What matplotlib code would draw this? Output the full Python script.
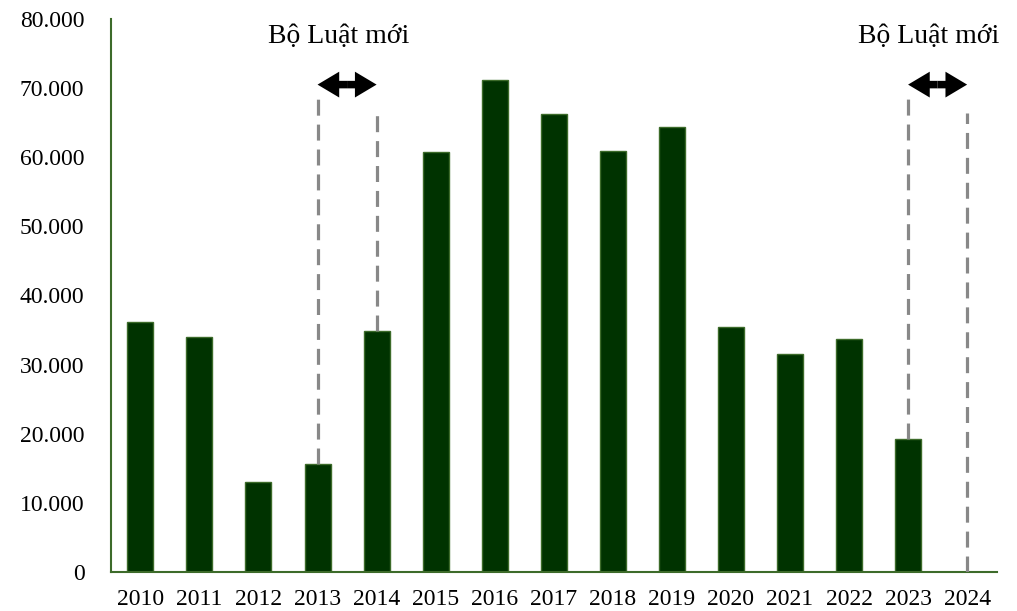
import matplotlib.pyplot as plt
import numpy as np

years = ['2010', '2011', '2012', '2013', '2014', '2015', '2016', '2017',
         '2018', '2019', '2020', '2021', '2022', '2023', '2024']
values = [36100, 34000, 13000, 15600, 34900, 60800, 71200, 66300,
          60900, 64400, 35500, 31500, 33700, 19200, 0]

# marker lines for the new laws: (year index, top of dashed line)
law_pairs = [(3, 4), (13, 14)]
line_tops = {3: 69000, 4: 66600, 13: 68900, 14: 66400}
arrow_y = 70500
label_y = 77500
label = 'Bộ Luật mới'

plt.rcParams['font.family'] = ['Liberation Serif', 'DejaVu Serif']

fig = plt.figure(figsize=(10.17, 6.11), dpi=100)
ax = fig.add_axes([0.109, 0.064, 0.871, 0.905])

x = np.arange(len(years))
ax.bar(x, values, width=0.44, color='#003300', edgecolor='#3d6b2a', linewidth=1, zorder=2)

for a, b in law_pairs:
    for i in (a, b):
        ax.vlines(i, values[i], line_tops[i], colors='#888888', linewidth=2.3,
                  linestyles=(0, (5, 2.8)), zorder=3)
    mid = (a + b) / 2
    # double arrow drawn as two filled arrows from the middle
    for end in (a, b):
        ax.annotate('', xy=(end, arrow_y), xytext=(mid, arrow_y),
                    arrowprops=dict(arrowstyle='simple,head_length=1.3,head_width=1.55,tail_width=0.45',
                                    mutation_scale=12, lw=0, color='black',
                                    shrinkA=0, shrinkB=0))
    ax.text(mid - 0.15, label_y, label, ha='center', va='center', fontsize=20)

ax.set_xlim(-0.5, 14.5)
ax.set_ylim(0, 80000)
ax.set_yticks(np.arange(0, 80001, 10000))
ax.set_yticklabels(['0' if v == 0 else f'{v // 1000}.000' for v in range(0, 80001, 10000)])
ax.set_xticks(x)
ax.set_xticklabels(years)
ax.tick_params(axis='both', length=0, labelsize=17)
ax.tick_params(axis='y', pad=19)
ax.tick_params(axis='x', pad=12)

for s in ['top', 'right']:
    ax.spines[s].set_visible(False)
for s in ['left', 'bottom']:
    ax.spines[s].set_color('#3d6b2a')
    ax.spines[s].set_linewidth(1.5)

fig.savefig('out.png', dpi=100)
